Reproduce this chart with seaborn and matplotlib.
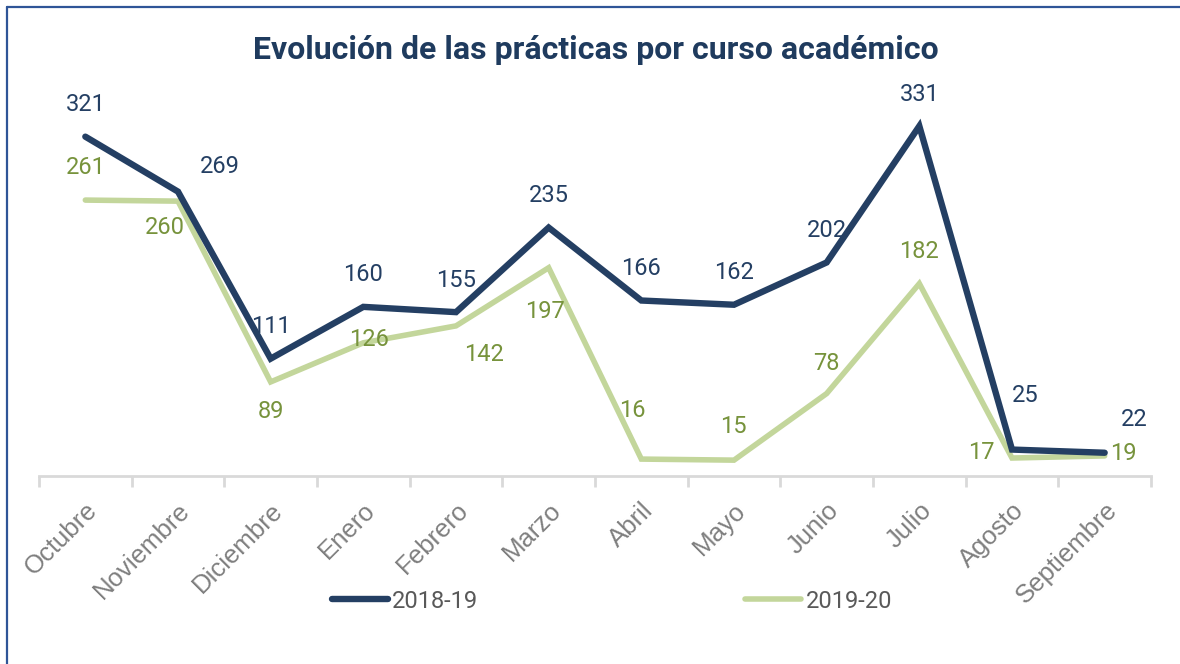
import matplotlib
matplotlib.use("Agg")
import matplotlib.pyplot as plt
import matplotlib.transforms as mtransforms
import seaborn as sns
import pandas as pd
import numpy as np
from matplotlib.lines import Line2D

meses = ["Octubre", "Noviembre", "Diciembre", "Enero", "Febrero", "Marzo",
         "Abril", "Mayo", "Junio", "Julio", "Agosto", "Septiembre"]
s2018 = [321, 269, 111, 160, 155, 235, 166, 162, 202, 331, 25, 22]
s2019 = [261, 260, 89, 126, 142, 197, 16, 15, 78, 182, 17, 19]
series = ["2018-19", "2019-20"]
titulo = "Evolución de las prácticas por curso académico"

# label offsets in pixels (styling)
off2018 = [(0, 32), (42, 25), (0, 32), (0, 32), (0, 32), (0, 32), (0, 32), (0, 32), (0, 32), (0, 32), (13, 54), (30, 33)]
off2019 = [(0, 33), (-13, -26), (0, -30), (6, 3), (28, -29), (-4, -44), (-9, 49), (-1, 34), (0, 30), (0, 32), (-31, 6), (19, 2)]

sns.set_theme(style="white")
plt.rcParams["font.family"] = ["Roboto", "DejaVu Sans"]

navy = "#243F63"
green = "#C3D69B"
green_txt = "#77933C"
gray_txt = "#7F7F7F"

df = pd.DataFrame({
    "x": list(range(len(meses))) * 2,
    "v": s2018 + s2019,
    "serie": [series[0]] * len(meses) + [series[1]] * len(meses),
})

fig = plt.figure(figsize=(11.8, 6.64), dpi=100)
ax = fig.add_axes([39 / 1180, 188 / 664, 1112 / 1180, 370 / 664])

sns.lineplot(data=df[df.serie == series[1]], x="x", y="v", color=green, lw=4.0,
             ax=ax, sort=False, solid_capstyle="round", solid_joinstyle="miter", label=series[1])
sns.lineplot(data=df[df.serie == series[0]], x="x", y="v", color=navy, lw=4.6,
             ax=ax, sort=False, solid_capstyle="round", solid_joinstyle="miter", label=series[0])

ax.set_xlim(-0.5, len(meses) - 0.5)
ax.set_ylim(0, 350)
for s in ["left", "right", "top"]:
    ax.spines[s].set_visible(False)
ax.spines["bottom"].set_color("#D9D9D9")
ax.spines["bottom"].set_linewidth(2)
ax.set_yticks([])
ax.set_xticks(np.arange(-0.5, len(meses)), labels=[""] * (len(meses) + 1))
ax.tick_params(axis="x", which="major", length=8, width=2, color="#D9D9D9", bottom=True)
ax.set_xticks(np.arange(len(meses)), minor=True)
ax.set_xticklabels(meses, minor=True, rotation=45, ha="right", rotation_mode="anchor",
                   fontsize=18.5, color=gray_txt, family=["Liberation Sans", "DejaVu Sans"])
ax.tick_params(axis="x", which="minor", length=0, pad=16)
shift = mtransforms.ScaledTranslation(0 / 100, 0, fig.dpi_scale_trans)
for lab in ax.get_xticklabels(minor=True):
    lab.set_transform(lab.get_transform() + shift)
ax.set_xlabel("")
ax.set_ylabel("")

for i, (v, o) in enumerate(zip(s2018, off2018)):
    ax.annotate(str(v), (i, v), xytext=(o[0] * 0.72, o[1] * 0.72), textcoords="offset points",
                ha="center", va="center", fontsize=17, color=navy, annotation_clip=False)
for i, (v, o) in enumerate(zip(s2019, off2019)):
    ax.annotate(str(v), (i, v), xytext=(o[0] * 0.72, o[1] * 0.72), textcoords="offset points",
                ha="center", va="center", fontsize=17, color=green_txt, annotation_clip=False)

ax.get_legend().remove()
handles = [Line2D([0], [0], color=navy, lw=4.6, solid_capstyle="round"),
           Line2D([0], [0], color=green, lw=4.0, solid_capstyle="round")]
fig.legend(handles, series, loc="center", bbox_to_anchor=(612 / 1180, 1 - 601 / 664),
           ncol=2, frameon=False, fontsize=17, labelcolor="#595959",
           handlelength=2.35, handletextpad=0.2, columnspacing=11.3)

fig.text(596 / 1180, 1 - 50 / 664, titulo, ha="center", va="center", fontsize=23,
         fontweight="bold", color="#1F3B5E")

# frame
fig.add_artist(Line2D([7 / 1180, 7 / 1180], [0, 1 - 7 / 664], color="#2F5597", lw=1.6, transform=fig.transFigure))
fig.add_artist(Line2D([7 / 1180, 1], [1 - 7 / 664, 1 - 7 / 664], color="#2F5597", lw=1.6, transform=fig.transFigure))

fig.savefig("out.png", dpi=100)
